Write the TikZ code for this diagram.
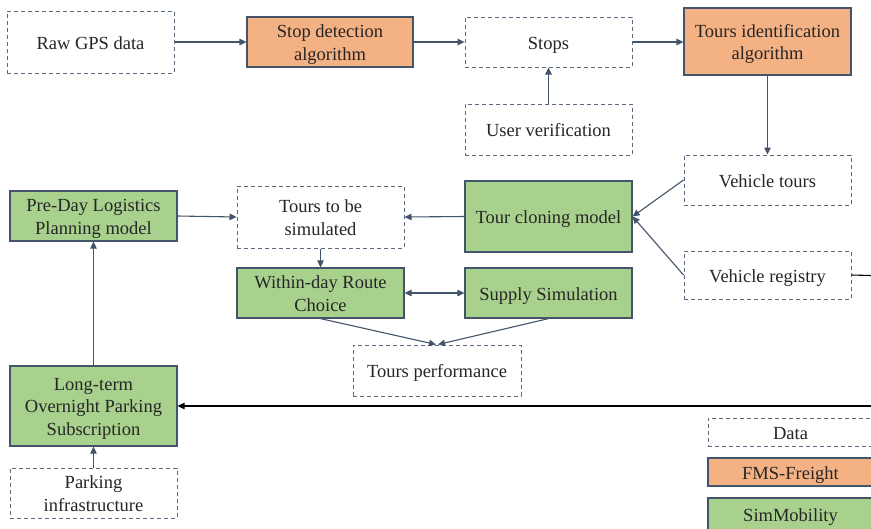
\documentclass[tikz,border=0pt]{standalone}
\usepackage{fontspec}
\setmainfont{Liberation Serif}
\usetikzlibrary{arrows.meta,calc}
\definecolor{edgeblue}{HTML}{44546A}
\definecolor{dashblue}{HTML}{5A6880}
\definecolor{fmsorange}{HTML}{F4B183}
\definecolor{simgreen}{HTML}{A9D18E}
\tikzset{
  box/.style={rectangle, inner sep=0pt, align=center, text=black!85,
    font=\fontsize{18.5}{22.5}\selectfont, line width=1.2pt,
    text height=18pt, text depth=4pt},
  twoline/.style={text height=40pt, text depth=4pt},
  threeline/.style={text height=62pt, text depth=4pt},
  databox/.style={box, draw=dashblue, line width=1pt, dash pattern=on 4pt off 3pt},
  fmsbox/.style={box, draw=edgeblue, fill=fmsorange},
  simbox/.style={box, draw=edgeblue, fill=simgreen},
  conn/.style={draw=edgeblue, line width=1.1pt, -{Triangle[length=7pt,width=6.5pt]}},
  blackconn/.style={draw=black, line width=1.1pt, -{Triangle[length=7pt,width=6.5pt]}},
}
\begin{document}
\begin{tikzpicture}[x=1pt,y=-1pt]
\clip (0,0) rectangle (871,528);
\fill[white] (0,0) rectangle (871,528);
% top row
\node[databox, minimum width=167pt, minimum height=62pt] (raw) at (90.5,42) {Raw GPS data};
\node[fmsbox, twoline, minimum width=166pt, minimum height=50pt] (stopdet) at (330,42) {Stop detection\\algorithm};
\node[databox, minimum width=167pt, minimum height=50pt] (stops) at (548.5,42) {Stops};
\node[fmsbox, twoline, minimum width=167pt, minimum height=67pt] (toursid) at (767.5,41.5) {Tours identification\\algorithm};
\node[databox, minimum width=167pt, minimum height=51pt] (user) at (548.5,129.5) {User verification};
% right column
\node[databox, minimum width=167pt, minimum height=50pt] (vtours) at (767.5,180) {Vehicle tours};
\node[databox, minimum width=167pt, minimum height=48pt] (vreg) at (767.5,275) {Vehicle registry};
% middle
\node[simbox, minimum width=167pt, minimum height=71pt] (clone) at (548.5,216.5) {Tour cloning model};
\node[databox, twoline, minimum width=167pt, minimum height=62pt] (tbs) at (320.5,217) {Tours to be\\simulated};
\node[simbox, twoline, minimum width=167pt, minimum height=50pt] (preday) at (93.5,216) {Pre-Day Logistics\\Planning model};
\node[simbox, twoline, minimum width=167pt, minimum height=50pt] (within) at (320.5,293) {Within-day Route\\Choice};
\node[simbox, minimum width=167pt, minimum height=50pt] (supply) at (548.5,293) {Supply Simulation};
\node[databox, minimum width=168pt, minimum height=51pt] (perf) at (437,370.5) {Tours performance};
% left column
\node[simbox, threeline, minimum width=167pt, minimum height=80pt] (longterm) at (93.5,406) {Long-term\\Overnight Parking\\Subscription};
\node[databox, twoline, minimum width=167pt, minimum height=50pt] (parking) at (93.5,493) {Parking\\infrastructure};
% legend
\node[databox, minimum width=165pt, minimum height=28pt] (legdata) at (790.5,432) {Data};
\node[fmsbox, minimum width=165pt, minimum height=28pt] (legfms) at (790.5,472) {FMS-Freight};
\node[simbox, minimum width=165pt, minimum height=32pt] (legsim) at (790.5,514) {SimMobility};
% connectors
\coordinate (offright1) at (890,276);
\coordinate (offright2) at (890,406);
\draw[conn] (raw.east) -- (stopdet.west);
\draw[conn] (stopdet.east) -- (stops.west);
\draw[conn] (stops.east) -- (toursid.west |- stops.east);
\draw[conn] (user.north) -- (stops.south);
\draw[conn] (toursid.south) -- (vtours.north);
\draw[conn] (vtours.west) -- (clone.east);
\draw[conn] (vreg.west) -- (clone.east);
\draw[conn] (clone.west) -- (tbs.east);
\draw[conn] (preday.east) -- (tbs.west);
\draw[conn] (tbs.south) -- (within.north);
\draw[conn, {Triangle[length=7pt,width=6.5pt]}-{Triangle[length=7pt,width=6.5pt]}] (within.east) -- (supply.west);
\draw[conn] (within.south) -- ($(perf.north)+(-1,0)$);
\draw[conn] (supply.south) -- ($(perf.north)+(1,0)$);
\draw[conn] (longterm.north) -- (preday.south);
\draw[conn] (parking.north) -- (longterm.south);
\draw[draw=black, line width=1.1pt] (vreg.east) -- (offright1) -- (offright2);
\draw[blackconn] (offright2) -- (longterm.east);
\end{tikzpicture}
\end{document}
